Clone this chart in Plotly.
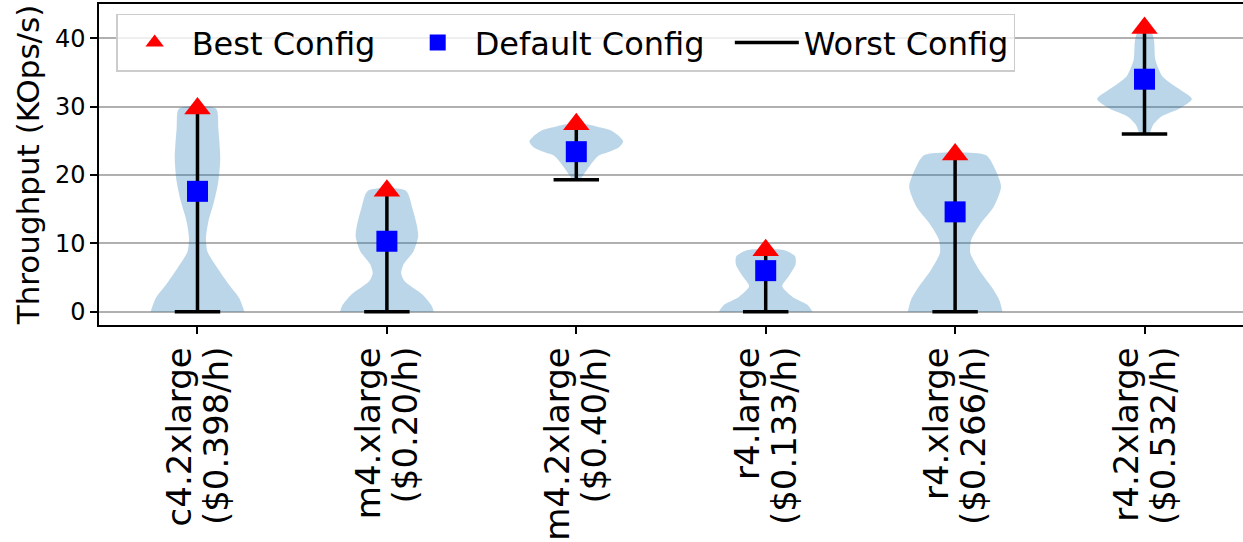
import plotly.graph_objects as go

# ---- data ----
instance_types = ["c4.2xlarge", "m4.xlarge", "m4.2xlarge", "r4.large", "r4.xlarge", "r4.2xlarge"]
prices = ["($0.398/h)", "($0.20/h)", "($0.40/h)", "($0.133/h)", "($0.266/h)", "($0.532/h)"]
positions = [1, 2, 3, 4, 5, 6]
best_config = [29.7, 17.7, 27.4, 9.0, 23.0, 41.5]
default_config = [17.6, 10.3, 23.4, 6.0, 14.6, 34.0]
worst_config = [0.0, 0.0, 19.3, 0.0, 0.0, 26.0]
y_ticks = [0, 10, 20, 30, 40]

# violin outlines: throughput levels and relative density (1 = widest)
c4_2xl_y = [0, 2.0, 3.9, 6.4, 8.8, 10.8, 13.2, 16.1, 19.0, 22.4, 26.8, 29.7]
c4_2xl_d = [0.99, 0.88, 0.67, 0.42, 0.21, 0.18, 0.23, 0.35, 0.44, 0.48, 0.44, 0.39]
m4_xl_y = [0, 0.8, 2.5, 4.4, 5.6, 6.9, 8.8, 11.0, 12.7, 15.1, 17.7]
m4_xl_d = [0.99, 0.95, 0.75, 0.38, 0.30, 0.35, 0.56, 0.66, 0.63, 0.54, 0.40]
m4_2xl_y = [19.3, 20.0, 21.2, 22.2, 22.9, 23.4, 24.1, 24.9, 25.8, 26.6, 27.1, 27.4]
m4_2xl_d = [0.08, 0.15, 0.27, 0.38, 0.49, 0.70, 0.91, 0.99, 0.88, 0.70, 0.42, 0.21]
r4_l_y = [0, 1.0, 2.2, 3.7, 5.2, 6.9, 8.1, 9.0]
r4_l_d = [0.99, 0.88, 0.56, 0.35, 0.49, 0.63, 0.62, 0.40]
r4_xl_y = [0, 1.75, 3.7, 6.1, 8.6, 10.5, 12.9, 15.4, 18.3, 21.2, 22.9]
r4_xl_d = [1.0, 0.93, 0.76, 0.51, 0.32, 0.34, 0.54, 0.82, 0.97, 0.82, 0.65]
r4_2xl_y = [26.0, 27.3, 28.5, 29.7, 31.1, 32.7, 34.4, 36.8, 39.7, 41.5]
r4_2xl_d = [0.11, 0.18, 0.35, 0.74, 1.0, 0.70, 0.38, 0.23, 0.20, 0.11]

violin_levels = [c4_2xl_y, m4_xl_y, m4_2xl_y, r4_l_y, r4_xl_y, r4_2xl_y]
violin_density = [c4_2xl_d, m4_xl_d, m4_2xl_d, r4_l_d, r4_xl_d, r4_2xl_d]

HALF_W = 0.25
FONT = "DejaVu Sans"
PAD = "&nbsp;" * 2
XRANGE = [0.48, 6.52]

fig = go.Figure()

for pos, ys, ds in zip(positions, violin_levels, violin_density):
    xs = [pos + HALF_W * d for d in ds] + [pos - HALF_W * d for d in reversed(ds)]
    yy = list(ys) + list(reversed(ys))
    fig.add_trace(go.Scatter(x=xs, y=yy, mode="lines", fill="toself",
                             fillcolor="rgba(31,119,180,0.3)", line=dict(width=0, shape="spline", smoothing=0.7),
                             showlegend=False, hoverinfo="skip"))

# stems from worst to best
sx, sy = [], []
for p, w, b in zip(positions, worst_config, best_config):
    sx += [p, p, None]
    sy += [w, b, None]
fig.add_trace(go.Scatter(x=sx, y=sy, mode="lines", line=dict(color="black", width=3.5),
                         showlegend=False, hoverinfo="skip"))

# worst bars
bx, by = [], []
for p, w in zip(positions, worst_config):
    bx += [p - 0.12, p + 0.12, None]
    by += [w, w, None]
fig.add_trace(go.Scatter(x=bx, y=by, mode="lines", line=dict(color="black", width=3.5),
                         name="Worst Config", legendrank=3))

fig.add_trace(go.Scatter(x=positions, y=default_config, mode="markers",
                         marker=dict(symbol="square", color="blue", size=21, line=dict(width=0)),
                         name="Default Config" + PAD, legendrank=2))
fig.add_trace(go.Scatter(x=positions, y=best_config, mode="markers",
                         marker=dict(symbol="triangle-up", color="red", size=23, line=dict(width=0)),
                         name="Best Config" + PAD, legendrank=1))

# carrier for the second tick-label line axis
fig.add_trace(go.Scatter(x=[positions[0]], y=[worst_config[0]], xaxis="x2", mode="markers",
                         marker=dict(opacity=0), showlegend=False, hoverinfo="skip"))

fig.update_layout(
    width=1243, height=542,
    margin=dict(l=99, r=0, t=4, b=217),
    plot_bgcolor="white", paper_bgcolor="white",
    font=dict(family=FONT, color="black"),
    legend=dict(orientation="h", x=0.015, y=0.97, xanchor="left", yanchor="top",
                bgcolor="rgba(255,255,255,0.8)", bordercolor="#cccccc", borderwidth=1.5,
                font=dict(size=32, family=FONT), itemwidth=64, traceorder="normal"),
    xaxis=dict(range=XRANGE, tickvals=positions, ticktext=instance_types, tickangle=-90,
               ticks="outside", ticklen=7, tickwidth=1.5, tickcolor="black", ticklabelshift=-18,
               showline=True, linecolor="black", linewidth=1.5, mirror=True, automargin=False,
               showgrid=False, zeroline=False, tickfont=dict(size=34, family=FONT)),
    xaxis2=dict(range=XRANGE, overlaying="x", anchor="y", side="bottom",
                tickvals=positions, ticktext=prices, tickangle=-90,
                ticks="outside", ticklen=7, tickwidth=1.5, tickcolor="rgba(0,0,0,0)", ticklabelshift=19,
                showline=False, automargin=False, showgrid=False, zeroline=False,
                tickfont=dict(size=34, family=FONT)),
    yaxis=dict(range=[-1.95, 45.0], tickvals=y_ticks,
               ticks="outside", ticklen=7, tickwidth=1.5, tickcolor="black",
               showline=True, linecolor="black", linewidth=1.5, mirror=True, automargin=False,
               showgrid=True, gridcolor="#b0b0b0", gridwidth=1.5, zeroline=False,
               tickfont=dict(size=24, family=FONT),
               title=dict(text="Throughput (KOps/s)", font=dict(size=31, family=FONT), standoff=6)),
)

fig.write_html("out.html", config={"displayModeBar": False},
               post_script="document.body.style.margin='0px';")
